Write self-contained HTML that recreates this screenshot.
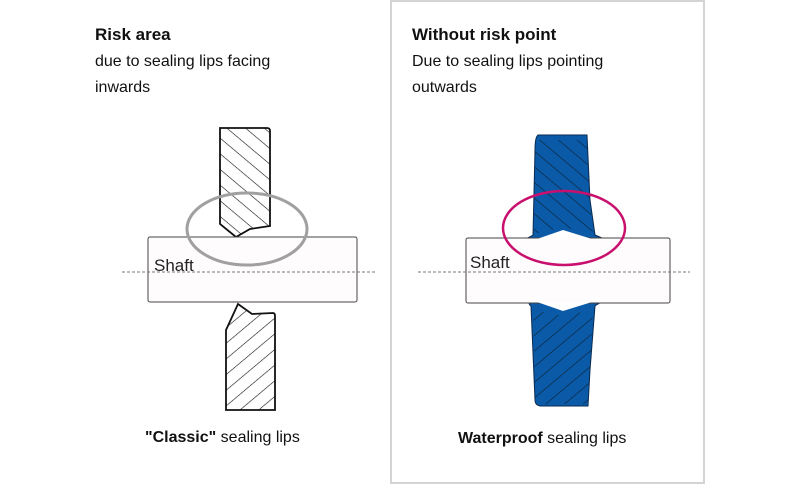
<!DOCTYPE html>
<html><head><style>
body{margin:0;width:800px;height:484px;background:#fff;overflow:hidden;font-family:"Liberation Sans",sans-serif;color:#111}
.t{position:absolute;font-size:16px;line-height:26px}
b{font-size:17px}
</style></head><body>
<div style="position:absolute;left:390px;top:0;width:311px;height:480px;border:2px solid #d4d4d4"></div>
<div class="t" style="left:95px;top:22px"><b>Risk area</b><br>due to sealing lips facing<br>inwards</div>
<div class="t" style="left:412px;top:22px"><b>Without risk point</b><br>Due to sealing lips pointing<br>outwards</div>
<div class="t" style="left:145px;top:425px;font-size:16px"><b style="font-size:16px">"Classic"</b> sealing lips</div>
<div class="t" style="left:458px;top:426px;font-size:16px"><b style="font-size:16px">Waterproof</b> sealing lips</div>
<svg width="800" height="484" style="position:absolute;left:0;top:0">
<defs>
<pattern id="h" width="12" height="12" patternUnits="userSpaceOnUse" patternTransform="rotate(40)"><line x1="0" y1="0" x2="12" y2="0" stroke="#111" stroke-width="1.2"/></pattern>
<pattern id="h2" width="12" height="12" patternUnits="userSpaceOnUse" patternTransform="rotate(-40)"><line x1="0" y1="0" x2="12" y2="0" stroke="#111" stroke-width="1.2"/></pattern>
</defs>
<!-- left -->
<path d="M220 128 H267 Q270 128 270 131 V226 L250 229 L236 237 L220 224 Z" fill="url(#h)" stroke="#111" stroke-width="1.8"/>
<path d="M226 330 L238 304 L252 314 L273 313 Q275 313 275 316 V410 H226 Z" fill="url(#h2)" stroke="#111" stroke-width="1.8"/>
<rect x="148" y="237" width="209" height="65" rx="2" fill="#fffcfd" stroke="#444" stroke-width="1"/>
<line x1="122" y1="272" x2="376" y2="272" stroke="#777" stroke-dasharray="3,2" stroke-width="1"/>
<text x="154" y="271" font-size="17" font-family="Liberation Sans" fill="#222">Shaft</text>
<ellipse cx="247" cy="229" rx="60" ry="36" fill="none" stroke="#a0a0a0" stroke-width="3"/>
<!-- right -->
<path d="M538 135 H587 L590 200 L595 235 Q600 237 604 239 H525 Q530 237 533 235 L535 150 Q535 137 538 135 Z" fill="#0a5aa8" stroke="#0a2a50" stroke-width="1"/>
<path d="M535 140 H587 L590 200 L593 234 L563 227 L534 234 Z" fill="url(#h)" opacity="0.8"/>
<path d="M530 302 H602 Q597 304 595 306 L590 370 L588 406 H540 Q535 405 535 400 L531 306 Q528 304 530 302 Z" fill="#0a5aa8" stroke="#0a2a50" stroke-width="1"/>
<path d="M533 310 L563 316 L593 310 L590 370 L588 404 H540 L535 400 Z" fill="url(#h2)" opacity="0.8"/>
<rect x="466" y="238" width="204" height="65" rx="2" fill="#fffcfd" stroke="#444" stroke-width="1"/>
<path d="M537 239 L563 230 L592 239 Z" fill="#fff"/>
<path d="M537 302 L563 311 L592 302 Z" fill="#fff"/>
<line x1="418" y1="272" x2="690" y2="272" stroke="#777" stroke-dasharray="3,2" stroke-width="1"/>
<text x="470" y="268" font-size="17" font-family="Liberation Sans" fill="#222">Shaft</text>
<ellipse cx="564" cy="228" rx="61" ry="37" fill="none" stroke="#c8106e" stroke-width="2.5"/>
</svg>
</body></html>
